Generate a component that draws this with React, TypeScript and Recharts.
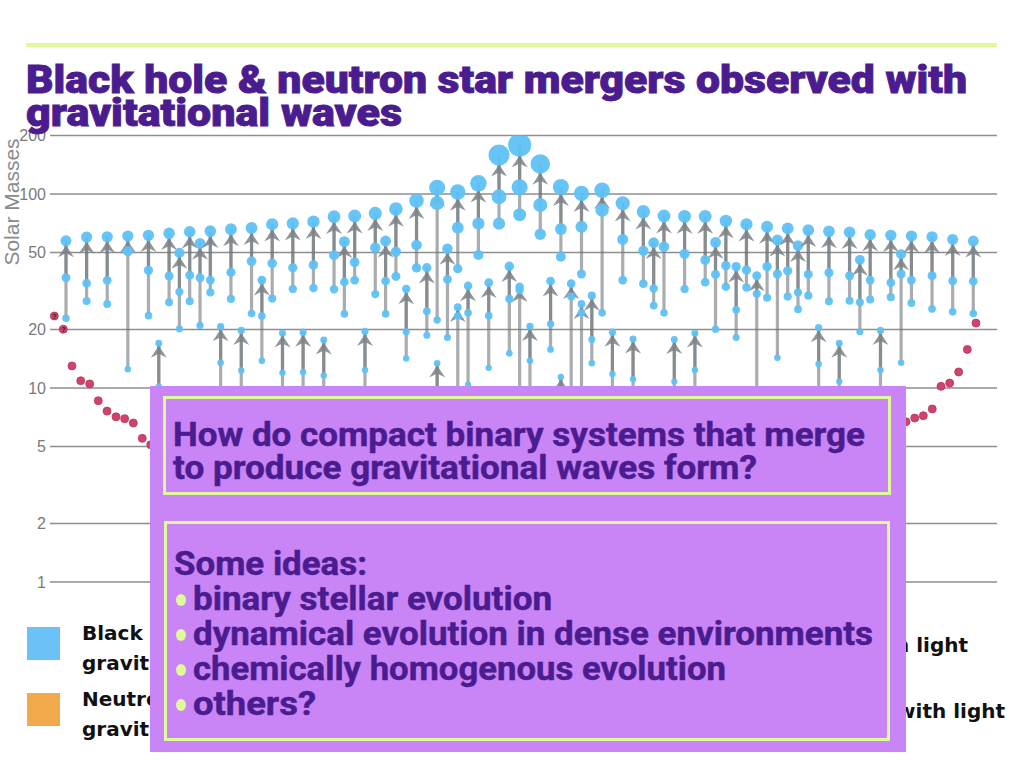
import React from 'react';
import { ScatterChart, Scatter, XAxis, YAxis, CartesianGrid, ErrorBar } from 'recharts';

// ---- Gravitational-wave mergers (slot = horizontal position index) ----
const slots = [
  0, 2, 4, 6, 8, 9, 10, 11, 12, 13, 14, 15, 16, 17, 18, 19, 20, 21, 22, 23, 24, 25, 26, 27, 28, 29, 30,
  31, 32, 33, 34, 35, 36, 36, 37, 38, 38, 39, 40, 41, 42, 43, 44, 44, 45, 46, 47, 48, 48, 49, 50, 50,
  51, 52, 53, 54, 55, 56, 57, 58, 59, 60, 61, 62, 63, 64, 65, 66, 67, 68, 69, 70, 71, 72, 73, 74, 75,
  76, 77, 78, 79, 80, 81, 82, 84, 86, 88,
];
const finalMass = [
  57.4, 60.0, 60.2, 60.7, 61.2, 17.0, 62.7, 49.8, 63.9, 55.7, 64.4, 20.7, 65.8, 19.8, 66.8, 36.0, 69.8, 19.2, 70.6, 19.4, 72.0, 17.7, 76.4, 56.8, 77.0, 19.6, 79.5,
  57.2, 83.7, 32.4, 92.4, 41.7, 13.4, 107.8, 52.3, 102.4, 26.1, 33.6, 113.5, 34.9, 158.9, 42.4, 178.9, 33.3, 20.8, 142.8, 35.6, 108.6, 11.4, 34.5, 100.8, 27.1,
  29.9, 104.5, 19.4, 89.5, 17.9, 81.0, 56.1, 77.0, 17.8, 76.7, 19.2, 76.7, 56.3, 72.6, 42.2, 69.8, 37.9, 67.8, 57.9, 66.5, 54.2, 65.2, 20.5, 64.2, 17.0,
  63.5, 45.8, 61.7, 19.8, 61.2, 48.9, 60.7, 60.2, 58.3, 57.2,
];
const primaryMass = [
  37.0, 34.7, 35.9, 50.7, 40.4, 10.2, 37.8, 31.3, 38.2, 37.0, 36.0, 13.5, 39.5, 12.3, 45.0, 23.5, 43.9, 12.0, 41.7, 12.1, 43.1, 11.6, 48.3, 35.2, 44.5, 12.4, 52.9,
  35.6, 50.4, 19.5, 54.6, 24.9, 9.0, 89.9, 36.3, 67.0, 23.5, 24.4, 70.3, 23.6, 96.9, 28.8, 108.3, 32.0, 13.8, 87.8, 21.4, 66.0, 7.0, 29.6, 67.8, 24.4,
  17.8, 82.7, 11.8, 58.3, 11.1, 51.0, 32.6, 53.5, 10.8, 49.1, 12.4, 45.7, 38.5, 42.7, 25.3, 40.6, 30.6, 42.2, 38.7, 40.2, 31.1, 38.5, 13.3, 39.3, 10.8,
  37.9, 27.7, 36.0, 12.4, 34.9, 38.7, 36.0, 37.9, 35.7, 35.5,
];
const secondaryMass = [
  22.9, 28.1, 27.1, 12.5, 23.6, 7.0, 27.7, 20.2, 28.0, 21.0, 31.1, 8.0, 28.8, 8.0, 24.2, 13.8, 28.9, 7.5, 32.4, 7.8, 32.8, 7.0, 32.3, 24.1, 36.0, 8.0, 30.5,
  24.1, 37.6, 14.2, 41.6, 18.7, 5.0, 22.4, 18.2, 41.2, 2.6, 10.4, 48.5, 12.7, 70.3, 15.1, 78.2, 2.5, 7.5, 62.0, 15.8, 47.5, 4.5, 5.0, 38.7, 3.0,
  13.4, 24.4, 7.5, 36.0, 7.0, 34.5, 26.6, 24.4, 7.0, 32.4, 7.5, 35.1, 20.1, 33.3, 18.2, 33.0, 7.0, 29.2, 14.3, 29.6, 25.5, 29.9, 8.0, 28.0, 7.0,
  28.2, 19.5, 28.6, 7.5, 29.4, 13.5, 27.4, 25.6, 24.7, 24.2,
];

// ---- Black holes observed with light (X-ray binaries) ----
const emSlots = [
  -1.13, -0.26, 0.58, 1.43, 2.3, 3.13, 3.98, 4.85, 5.69, 6.53, 7.4, 8.22,
  81.47, 82.32, 83.15, 84.02, 84.87, 85.71, 86.58, 87.42, 88.26,
];
const emMass = [
  23.5, 20.1, 13.0, 10.9, 10.5, 8.6, 7.6, 7.1, 6.95, 6.6, 5.5, 5.1,
  6.7, 7.0, 7.2, 7.8, 10.2, 10.6, 12.1, 15.8, 21.6,
];
const emUncertain = [true, true, false, false, false, false, false, false, false, false, false, false,
  false, false, false, false, false, false, false, false, false];

const yTicks = [1, 2, 5, 10, 20, 50, 100, 200];

const titleLines = ['Black hole & neutron star mergers observed with', 'gravitational waves'];
const questionLines = ['How do compact binary systems that merge', 'to produce gravitational waves form?'];
const ideasHeader = 'Some ideas:';
const ideas = ['binary stellar evolution', 'dynamical evolution in dense environments', 'chemically homogenous evolution', 'others?'];
const legendLeft = [
  { lines: ['Black holes observed with', 'gravitational waves'], color: '#6cc2f7' },
  { lines: ['Neutron stars observed with', 'gravitational waves'], color: '#f2a94c' },
];
const legendRight = [
  { label: 'Black holes observed with light', color: '#d0446c' },
  { label: 'Neutron stars observed with light', color: '#f3e05a' },
];

const finals = slots.map((s, i) => ({
  x: s,
  y: finalMass[i],
  toPrimary: [finalMass[i] - primaryMass[i], 0],
  toSecondary: [finalMass[i] - secondaryMass[i], 0],
}));
const primaries = slots.map((s, i) => ({ x: s, y: primaryMass[i] }));
const secondaries = slots.map((s, i) => ({ x: s, y: secondaryMass[i] }));
const emPoints = emSlots.map((s, i) => ({ x: s, y: emMass[i], q: emUncertain[i] }));

const BLUE = '#5fc1f6';
const ARROW = 'rgba(112,118,122,0.6)';
const rOf = (m: number) => 2.6 + 0.05 * m;

const FinalShape = (props: any) => {
  const { cx, cy, payload } = props;
  if (cx == null || cy == null) return null;
  const r = rOf(payload.y);
  const t = cy + r - 1;
  return (
    <g>
      <polygon
        points={`${cx},${t} ${cx - 8},${t + 12} ${cx},${t + 8} ${cx + 8},${t + 12}`}
        fill="rgba(125,130,134,0.85)"
      />
      <circle cx={cx} cy={cy} r={r} fill={BLUE} fillOpacity={0.95} />
    </g>
  );
};

const MassShape = (props: any) => {
  const { cx, cy, payload } = props;
  if (cx == null || cy == null) return null;
  return <circle cx={cx} cy={cy} r={rOf(payload.y)} fill={BLUE} fillOpacity={0.95} />;
};

const EmShape = (props: any) => {
  const { cx, cy, payload } = props;
  if (cx == null || cy == null) return null;
  return (
    <g>
      <circle cx={cx} cy={cy} r={4} fill="#d0446c" stroke="#b8345a" strokeWidth={0.8} />
      {payload.q && (
        <text x={cx} y={cy + 2.5} fontSize={7} fontWeight={700} textAnchor="middle" fill="#222" fontFamily="Liberation Sans, Arial">?</text>
      )}
    </g>
  );
};

const PURPLE = '#4b1c8f';
const LIME = '#dff99b';

export default function App() {
  return (
    <div style={{ position: 'absolute', left: 0, top: 0, width: 1024, height: 768, background: '#fff', overflow: 'hidden' }}>
      <ScatterChart width={1024} height={768} margin={{ top: 135.6, right: 27, bottom: 186, left: 8 }}>
        <CartesianGrid vertical={false} stroke="#8e8e8e" strokeWidth={1.5} />
        <XAxis type="number" dataKey="x" domain={[-1.55, 90.3]} hide allowDataOverflow />
        <YAxis
          type="number"
          dataKey="y"
          scale="log"
          domain={[1, 200]}
          ticks={yTicks}
          allowDataOverflow
          width={42}
          tickLine={false}
          axisLine={false}
          tickSize={0}
          tickMargin={4}
          tick={{ fill: '#7a7a7a', fontSize: 16, fontFamily: 'Liberation Sans, Arial, sans-serif' }}
        />
        <Scatter data={finals} shape={FinalShape} isAnimationActive={false}>
          <ErrorBar dataKey="toSecondary" direction="y" width={0} stroke={ARROW} strokeWidth={3.2} />
          <ErrorBar dataKey="toPrimary" direction="y" width={0} stroke={ARROW} strokeWidth={3.2} />
        </Scatter>
        <Scatter data={primaries} shape={MassShape} isAnimationActive={false} />
        <Scatter data={secondaries} shape={MassShape} isAnimationActive={false} />
        <Scatter data={emPoints} shape={EmShape} isAnimationActive={false} />
      </ScatterChart>

      <svg width={1024} height={768} style={{ position: 'absolute', left: 0, top: 0, pointerEvents: 'none' }}>
        <rect x={26} y={43} width={971} height={4} fill={LIME} />
        <text x={26} y={93} fontSize={39} fontWeight={900} fill={PURPLE} stroke={PURPLE} strokeWidth={0.9}
          fontFamily="Roboto, Liberation Sans, sans-serif"
          textLength={941} lengthAdjust="spacingAndGlyphs">{titleLines[0]}</text>
        <text x={26} y={126} fontSize={39} fontWeight={900} fill={PURPLE} stroke={PURPLE} strokeWidth={0.9}
          fontFamily="Roboto, Liberation Sans, sans-serif"
          textLength={376} lengthAdjust="spacingAndGlyphs">{titleLines[1]}</text>

        <text transform="rotate(-90, 19, 202)" x={19} y={202} textAnchor="middle" fontSize={21} fill="#8a8a8a"
          fontFamily="Liberation Sans, Arial, sans-serif">Solar Masses</text>

        {legendLeft.map((it, i) => (
          <g key={i}>
            <rect x={27} y={627 + i * 66} width={33} height={33} fill={it.color} />
            <text x={82} y={640 + i * 66} fontSize={20} fontWeight={700} fill="#111" fontFamily="DejaVu Sans, sans-serif">{it.lines[0]}</text>
            <text x={82} y={670 + i * 66} fontSize={20} fontWeight={700} fill="#111" fontFamily="DejaVu Sans, sans-serif">{it.lines[1]}</text>
          </g>
        ))}
        {legendRight.map((it, i) => (
          <g key={i}>
            <rect x={540} y={627 + i * 66} width={33} height={33} fill={it.color} />
            <text x={i === 0 ? 968 : 1005} y={652 + i * 66} textAnchor="end" fontSize={20} fontWeight={700} fill="#111"
              fontFamily="DejaVu Sans, sans-serif">{it.label}</text>
          </g>
        ))}

        <rect x={150} y={386} width={756} height={366} fill="#c985f6" />
        <rect x={164.5} y={397.5} width={725} height={96} fill="none" stroke={LIME} strokeWidth={3} />
        <rect x={165.5} y={522.5} width={723} height={217} fill="none" stroke={LIME} strokeWidth={3} />
        <text x={173} y={446} fontSize={33} fontWeight={700} fill={PURPLE} stroke={PURPLE} strokeWidth={0.5}
          fontFamily="Roboto, Liberation Sans, sans-serif"
          textLength={692} lengthAdjust="spacingAndGlyphs">{questionLines[0]}</text>
        <text x={173} y={479} fontSize={33} fontWeight={700} fill={PURPLE} stroke={PURPLE} strokeWidth={0.5}
          fontFamily="Roboto, Liberation Sans, sans-serif"
          textLength={584} lengthAdjust="spacingAndGlyphs">{questionLines[1]}</text>
        <text x={174} y={575} fontSize={33} fontWeight={700} fill={PURPLE} stroke={PURPLE} strokeWidth={0.5}
          fontFamily="Roboto, Liberation Sans, sans-serif"
          textLength={193} lengthAdjust="spacingAndGlyphs">{ideasHeader}</text>
        {ideas.map((t, i) => {
          const widths = [359, 680, 533, 123];
          return (
            <g key={i}>
              <ellipse cx={181} cy={600 + i * 35} rx={5} ry={6} fill={LIME} />
              <text x={193} y={610 + i * 35} fontSize={33} fontWeight={700} fill={PURPLE} stroke={PURPLE} strokeWidth={0.5}
                fontFamily="Roboto, Liberation Sans, sans-serif" textLength={widths[i]} lengthAdjust="spacingAndGlyphs">{t}</text>
            </g>
          );
        })}
      </svg>
    </div>
  );
}
